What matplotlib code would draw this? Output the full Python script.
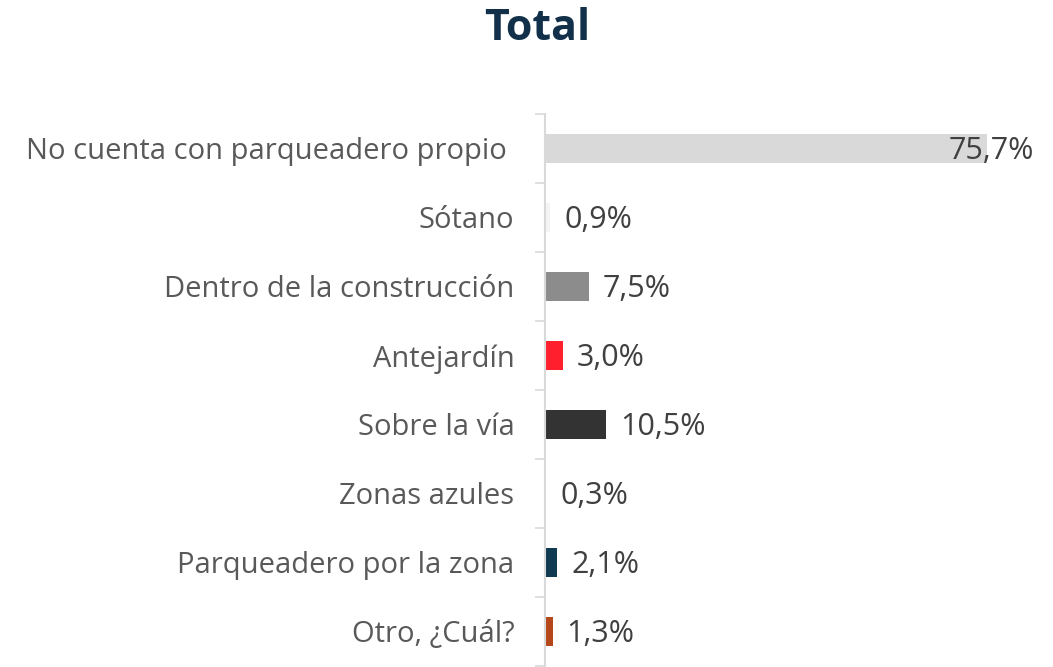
import matplotlib.pyplot as plt
from matplotlib.ticker import FixedLocator

# data
categorias = ["No cuenta con parqueadero propio ", "Sótano", "Dentro de la construcción",
              "Antejardín", "Sobre la vía", "Zonas azules", "Parqueadero por la zona",
              "Otro, ¿Cuál?"]
porcentajes = [75.7, 0.9, 7.5, 3.0, 10.5, 0.3, 2.1, 1.3]
colores = ["#d9d9d9", "#f5f5f5", "#8c8c8c", "#ff1f2d", "#333333", "#ffffff",
           "#0f3a52", "#b5471a"]

plt.rcParams['font.family'] = ['Open Sans', 'DejaVu Sans']

fig = plt.figure(figsize=(10.53, 6.67), dpi=100)
ax = fig.add_axes([0.5176, 0.0015, 0.4824, 0.8276])

pos = list(range(len(categorias)))
ax.barh(pos, porcentajes, height=0.43, color=colores)
ax.set_ylim(len(categorias) - 0.5, -0.5)
xmax = 87
ax.set_xlim(0, xmax)

# value labels, the big one is pushed back inside the plot like excel does
for p, v in zip(pos, porcentajes):
    txt = f"{v:.1f}%".replace(".", ",")
    if v > xmax - 15:
        ax.annotate(txt, (xmax, p), xytext=(-14, -2), textcoords="offset points",
                    ha="right", va="center", fontsize=22, color="#404040")
    else:
        ax.annotate(txt, (v, p), xytext=(10, -2), textcoords="offset points",
                    ha="left", va="center", fontsize=22, color="#404040")

ax.set_yticks(pos)
ax.set_yticklabels(categorias, fontsize=21, color="#595959")
ax.tick_params(axis="y", which="major", length=0, pad=22)
ax.yaxis.set_minor_locator(FixedLocator([p - 0.5 for p in pos] + [pos[-1] + 0.5]))
ax.tick_params(axis="y", which="minor", length=7, width=1.2, color="#d9d9d9")
ax.set_xticks([])

for s in ["top", "right", "bottom"]:
    ax.spines[s].set_visible(False)
ax.spines["left"].set_color("#d9d9d9")
ax.spines["left"].set_linewidth(1.5)

fig.text(0.51, 0.958, "Total", ha="center", va="center", fontsize=31,
         fontweight="bold", color="#13304a")

fig.savefig("out.png", dpi=100)
